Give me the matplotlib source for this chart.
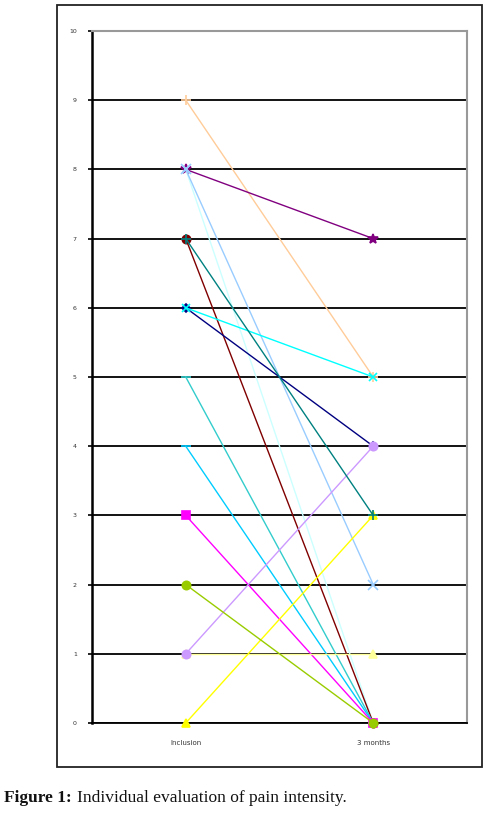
import matplotlib
matplotlib.use("Agg")
import matplotlib.pyplot as plt
from matplotlib.patches import Rectangle

categories = ["Inclusion", "3 months"]
y_ticks = list(range(0, 11))

# each patient: (inclusion, 3 months)
p_orange = [9, 5]
p_purple = [8, 7]
p_lightblue = [8, 2]
p_palecyan = [8, 0]
p_darkred = [7, 0]
p_teal = [7, 3]
p_navy = [6, 4]
p_cyan = [6, 5]
p_turq = [5, 0]
p_sky = [4, 0]
p_magenta = [3, 0]
p_lavender = [1, 4]
p_paleyellow = [1, 1]
p_yellow = [0, 3]
p_olive = [2, 0]

series = [
    (p_orange, "#FFCC99", "+", 7),
    (p_purple, "#800080", "*", 7),
    (p_palecyan, "#CCFFFF", "x", 6),
    (p_lightblue, "#99CCFF", "x", 7),
    (p_darkred, "#800000", "o", 6),
    (p_navy, "#000080", "D", 4),
    (p_cyan, "#00FFFF", "x", 6),
    (p_turq, "#33CCCC", "_", 7),
    (p_sky, "#00CCFF", "_", 7),
    (p_magenta, "#FF00FF", "s", 6),
    (p_paleyellow, "#FFFF99", "^", 6),
    (p_lavender, "#CC99FF", "o", 6),
    (p_yellow, "#FFFF00", "^", 6),
    (p_teal, "#008080", "+", 7),
    (p_olive, "#99CC00", "o", 6),
]

W, H = 490, 816
fig = plt.figure(figsize=(W / 100, H / 100), dpi=100)

# outer chart box
fig.patches.append(Rectangle((57 / W, 1 - 767 / H), (482 - 57) / W, (767 - 5) / H,
                             transform=fig.transFigure, fill=False,
                             edgecolor="#222222", linewidth=1.3))

ax = fig.add_axes([92 / W, 1 - 723 / H, (467 - 92) / W, (723 - 31) / H])
xs = list(range(len(categories)))
for vals, col, mk, ms in series:
    ax.plot(xs, vals, color=col, linewidth=1.0, marker=mk, markersize=ms,
            markeredgecolor=col, markerfacecolor=col, markeredgewidth=1.2,
            clip_on=False, zorder=3)

ax.set_xlim(-0.5, 1.5)
ax.set_ylim(0, 10)
ax.set_yticks(y_ticks)
ax.set_yticklabels([str(t) for t in y_ticks], fontsize=4.5, color="#333333")
ax.set_xticks(xs)
ax.set_xticklabels(categories, fontsize=5, color="#333333")
ax.tick_params(axis="x", length=0, pad=12)
ax.tick_params(axis="y", length=3, width=1.2, pad=8, direction="out")
for y in y_ticks[:-1]:
    ax.axhline(y, color="black", linewidth=1.3, zorder=1)
ax.spines["left"].set_color("black")
ax.spines["left"].set_linewidth(1.8)
ax.spines["bottom"].set_color("black")
ax.spines["bottom"].set_linewidth(1.3)
ax.spines["top"].set_color("#999999")
ax.spines["top"].set_linewidth(1.5)
ax.spines["right"].set_color("#999999")
ax.spines["right"].set_linewidth(1.5)

t1 = fig.text(4 / W, 1 - 798 / H, "Figure 1:", fontfamily="Liberation Serif",
              fontsize=12.5, fontweight="bold", va="center", ha="left",
              color="#111111")
fig.canvas.draw()
bb = t1.get_window_extent()
fig.text((bb.x1 + 5) / W, 1 - 798 / H, "Individual evaluation of pain intensity.",
         fontfamily="Liberation Serif", fontsize=12.5, va="center", ha="left",
         color="#111111")

fig.savefig("out.png", dpi=100)
